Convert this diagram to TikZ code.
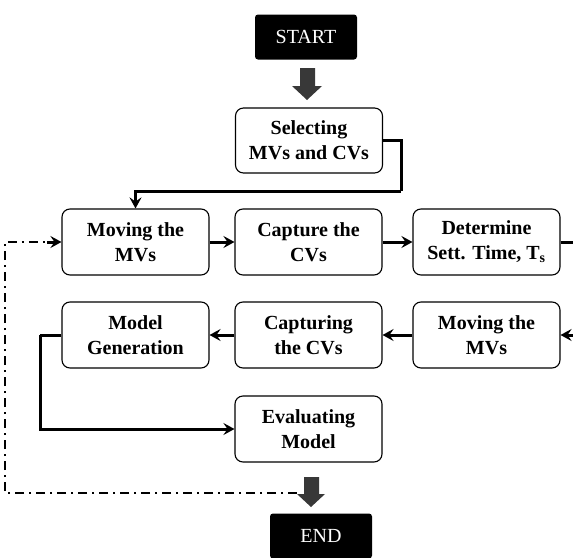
\documentclass[tikz,border=0pt]{standalone}
\usepackage{fontspec}
\setmainfont{Liberation Serif}
\usetikzlibrary{arrows.meta,calc}
\begin{document}
\begin{tikzpicture}[x=1pt,y=-1pt,
  box/.style={draw=black, line width=1.1pt, rounded corners=8pt, minimum width=147pt, minimum height=66pt, align=center, inner sep=2pt, font=\fontsize{20}{25}\selectfont\bfseries},
  term/.style={fill=black, rounded corners=3pt, minimum width=102pt, minimum height=45pt, text=white, inner sep=0pt, font=\fontsize{20}{22}\selectfont},
  conn/.style={line width=3pt, -{Stealth[length=11pt,width=12pt,inset=4pt]}},
  plainline/.style={line width=3pt},
  dashdot/.style={line width=2pt, dash pattern=on 9pt off 5pt on 2pt off 5pt},
  blockarrow/.style={fill=black!78}]

\useasboundingbox (0,0) rectangle (573,557);

% terminals
\node[term] (start) at (306,37) {START};
\node[term] (finish) at (321,536) {END};

% boxes
\node[box, minimum height=65pt] (sel) at (309,140.5) {Selecting\\MVs and CVs};
\node[box] (m1) at (135.5,242) {Moving the\\MVs};
\node[box] (c1) at (308.5,242) {Capture the\\CVs};
\node[box] (d1) at (486.5,242) {Determine\\Sett. Time, T\textsubscript{s}};
\node[box] (m2) at (486.5,335) {Moving the\\MVs};
\node[box] (c2) at (308.5,335) {Capturing\\the CVs};
\node[box] (g2) at (135.5,335) {Model\\Generation};
\node[box] (ev) at (308.5,429) {Evaluating\\Model};

% block arrows
\fill[blockarrow] (300,68) -- (315,68) -- (315,86) -- (322,86) -- (307,100) -- (292,86) -- (300,86) -- cycle;
\fill[blockarrow] (304,477) -- (319,477) -- (319,494) -- (325,494) -- (311,507) -- (297,494) -- (304,494) -- cycle;

% helper coordinates
\coordinate (bend) at (401,191);
\coordinate (rE1) at (573,242);
\coordinate (rE2) at (573,335);
\coordinate (dl1) at (5,242);
\coordinate (dl2) at (5,493);
\coordinate (dl3) at (297,493);
\coordinate (gl) at (40,335);

% connectors
\draw[plainline] (sel.east) -| (bend);
\draw[conn] (bend) -| (m1.north);
\draw[conn] (m1.east) -- (c1.west);
\draw[conn] (c1.east) -- (d1.west);
\draw[plainline] (d1.east) -- (rE1);
\draw[conn] (rE2) -- (m2.east);
\draw[conn] (m2.west) -- (c2.east);
\draw[conn] (c2.west) -- (g2.east);
\draw[plainline] (g2.west) -- (gl);
\draw[conn] (gl) |- (ev.west);

% dash-dot feedback loop
\draw[dashdot] (dl3) -- (dl2) -- (dl1) -- ($(m1.west)+(-12,0)$);
\draw[conn] ($(m1.west)+(-14,0)$) -- (m1.west);
\end{tikzpicture}
\end{document}
